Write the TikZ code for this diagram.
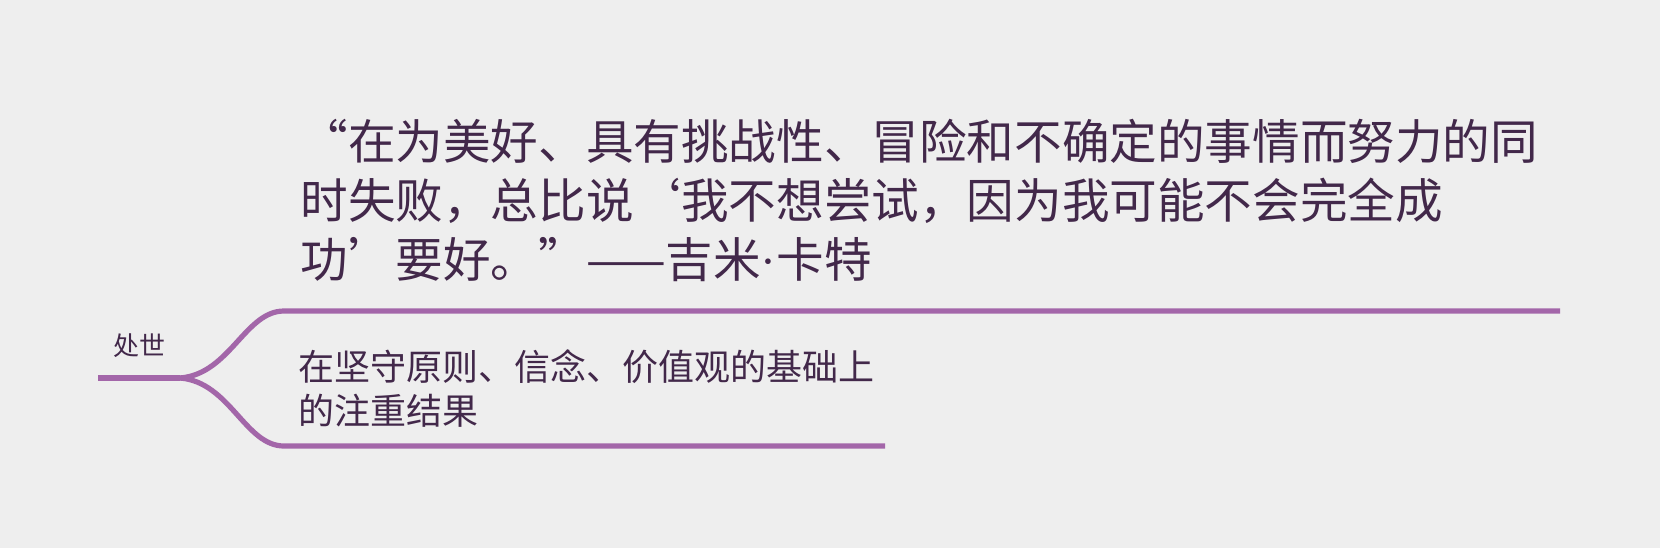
\documentclass[tikz,border=0pt]{standalone}
\usepackage{fontspec}
\usepackage{xcolor}
\usetikzlibrary{positioning,calc}
\newfontfamily\cjkfont{Noto Sans CJK SC}
\newfontfamily\dotfont{Liberation Serif}
\definecolor{MapPurple}{HTML}{A366A9}
\definecolor{MapInk}{HTML}{42284A}
\definecolor{MapBack}{HTML}{EEEEEE}
\tikzset{
    % Branch line style
    branchline/.style={
        draw=MapPurple,
        line width=2.6pt,
        line cap=butt
    },
    % Base text style
    basetext/.style={
        text=MapInk,
        inner sep=0pt,
        align=left,
        font=\cjkfont
    },
    % Root topic
    rootnode/.style={
        basetext,
        font=\cjkfont\fontsize{13}{15}\selectfont
    },
    % Quote text
    quotenode/.style={
        basetext,
        font=\cjkfont\fontsize{23.8}{29.3}\selectfont
    },
    % Subtopic text
    subnode/.style={
        basetext,
        font=\cjkfont\fontsize{18}{22}\selectfont
    }
}
\begin{document}
\begin{tikzpicture}[x=0.5pt, y=-0.5pt]
    % Background
    \fill[MapBack] (0,0) rectangle (1660,548);
    \useasboundingbox (0,0) rectangle (1660,548);

    % Texts (base = last line)
    \node[rootnode, anchor=base west] (root) at (113,355) {处世};
    \node[quotenode, anchor=base west] (quote) at (300,277) {“在为美好、具有挑战性、冒险和不确定的事情而努力的同\\时失败，总比说‘我不想尝试，因为我可能不会完全成\\功’要好。”——吉米{\dotfont ·}卡特};
    \node[subnode, anchor=base west] (sub) at (298,424) {在坚守原则、信念、价值观的基础上\\的注重结果};

    % Branch ends
    \coordinate (stem) at (98,378);
    \coordinate (fork) at (180,378);
    \coordinate (topstart) at (284,311);
    \coordinate (topend) at (1560,311);
    \coordinate (botstart) at (284,446);
    \coordinate (botend) at (885,446);

    % Branches
    \draw[branchline] (stem) -- (fork);
    \draw[branchline] (fork) .. controls (230,374) and (245,311) .. (topstart) -- (topend);
    \draw[branchline] (fork) .. controls (230,382) and (245,446) .. (botstart) -- (botend);
\end{tikzpicture}
\end{document}
